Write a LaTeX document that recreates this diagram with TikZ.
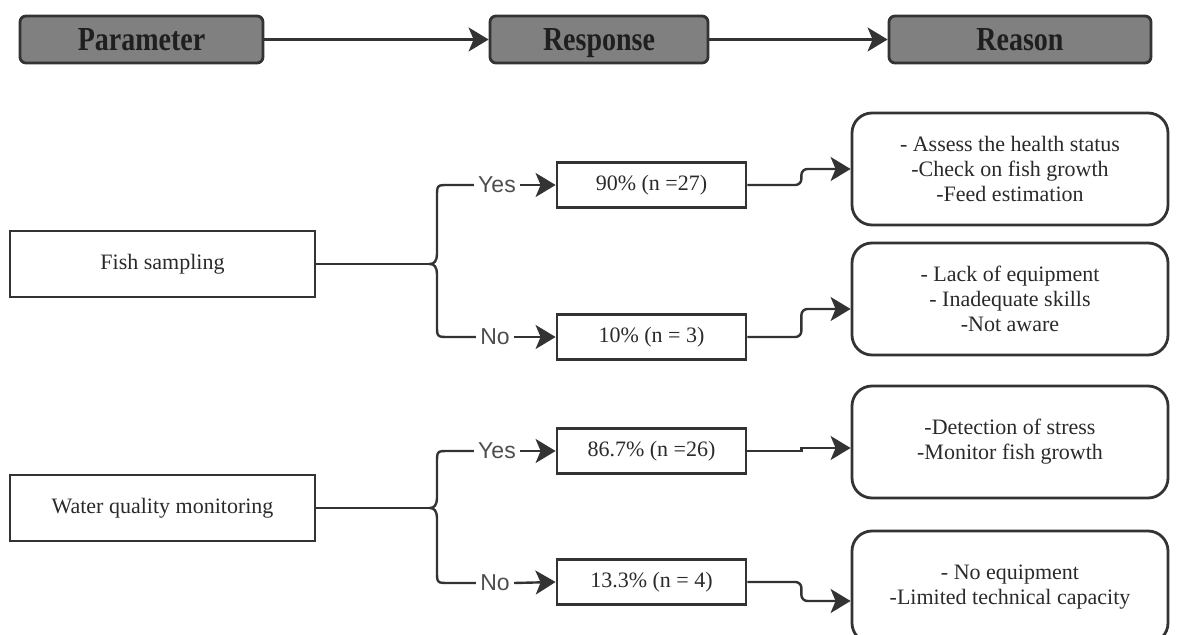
\documentclass[tikz,border=0pt]{standalone}
\usepackage{fontspec}
\setmainfont{Liberation Serif}
\newfontfamily\yesfont{Liberation Sans}
\usetikzlibrary{arrows.meta,calc}
\definecolor{ln}{HTML}{333333}
\definecolor{hdr}{HTML}{808080}
\definecolor{tx}{HTML}{2A2A2A}
\definecolor{yn}{HTML}{4D4D4D}
\newcommand{\hdrtext}[1]{\scalebox{1}[1.2]{#1}}
\begin{document}
\begin{tikzpicture}[x=0.5pt,y=-0.5pt,
  hdrbox/.style={draw=ln,fill=hdr,line width=1.4pt,rounded corners=3pt,minimum height=23.5pt,
    font=\fontsize{14}{16}\selectfont\bfseries,text=black!88,inner sep=0pt,
    text height=11.2pt,text depth=0pt},
  parbox/.style={draw=ln,line width=1.4pt,minimum height=33pt,minimum width=152.5pt,
    font=\fontsize{11}{12.5}\selectfont,text=tx,inner sep=0pt},
  resbox/.style={draw=ln,line width=1.4pt,minimum height=22.5pt,minimum width=94.5pt,
    font=\fontsize{11}{12.5}\selectfont,text=tx,inner sep=0pt},
  reabox/.style={draw=ln,line width=1.4pt,rounded corners=10pt,minimum height=56pt,minimum width=158pt,
    font=\fontsize{11}{12.5}\selectfont,text=tx,align=center,inner sep=0pt},
  yesno/.style={font=\yesfont\fontsize{11.5}{12}\selectfont,text=yn,inner sep=2pt},
  conn/.style={draw=ln,line width=1.2pt},
  arr/.style={conn,-{Stealth[length=10pt,width=12pt,inset=2.5pt]}},
]
\useasboundingbox (0,0) rectangle (1178,635);

% headers
\node[hdrbox,minimum width=121.5pt] (h1) at (141.5,39.5) {\hdrtext{Parameter}};
\node[hdrbox,minimum width=109pt] (h2) at (599,39.5) {\hdrtext{Response}};
\node[hdrbox,minimum width=131pt] (h3) at (1020,39.5) {\hdrtext{Reason}};
\draw[arr] (h1.east) -- (h2.west);
\draw[arr] (h2.east) -- (h3.west);

% parameters
\node[parbox] (fish) at (162.5,264) {Fish sampling};
\node[parbox] (water) at (162.5,508) {Water quality monitoring};

% yes/no labels
\node[yesno] (y1) at (497,185) {Yes};
\node[yesno] (n1) at (495,337) {No};
\node[yesno] (y2) at (497,451) {Yes};
\node[yesno] (n2) at (495,583) {No};

% responses
\node[resbox] (r1) at (651.5,185) {90\% (n =27)};
\node[resbox] (r2) at (651.5,337) {10\% (n = 3)};
\node[resbox] (r3) at (651.5,451) {86.7\% (n =26)};
\node[resbox] (r4) at (651.5,582) {13.3\% (n = 4)};

% reasons
\node[reabox] (q1) at (1010,169) {- Assess the health status\\-Check on fish growth\\-Feed estimation};
\node[reabox] (q2) at (1010,299) {- Lack of equipment\\- Inadequate skills\\-Not aware};
\node[reabox] (q3) at (1010,442) {-Detection of stress\\-Monitor fish growth};
\node[reabox] (q4) at (1010,587) {- No equipment\\-Limited technical capacity};

% braces
\coordinate (j1) at (430,264);
\coordinate (j2) at (430,508);
\draw[conn] (fish.east) -- (j1);
\draw[conn] (water.east) -- (j2);
\draw[conn] (y1.west) -- (449,185) .. controls (437,185) .. (437,197) -- (437,254)
  .. controls (437,261) and (434,264) .. (j1)
  .. controls (434,264) and (437,267) .. (437,274) -- (437,325)
  .. controls (437,337) .. (449,337) -- (n1.west);
\draw[conn] (y2.west) -- (449,451) .. controls (437,451) .. (437,463) -- (437,498)
  .. controls (437,505) and (434,508) .. (j2)
  .. controls (434,508) and (437,511) .. (437,518) -- (437,571)
  .. controls (437,583) .. (449,583) -- (n2.west);

% yes/no arrows
\draw[arr] (y1.east) -- (r1.west);
\draw[arr] (n1.east) -- (r2.west);
\draw[arr] (y2.east) -- (r3.west);
\draw[arr] (n2.east) -- (r4.west);

% response to reason
\draw[arr,rounded corners=3pt] (r1.east) -- ++(54,0) |- (q1.west);
\draw[arr,rounded corners=3pt] (r2.east) -- ++(54,0) |- ([yshift=-5pt]q2.west);
\draw[arr] (r3.east) -- ++(54,0) |- ([yshift=-3pt]q3.west);
\draw[arr,rounded corners=3pt] (r4.east) -- ++(54,0) |- ([yshift=-7pt]q4.west);
\end{tikzpicture}
\end{document}
